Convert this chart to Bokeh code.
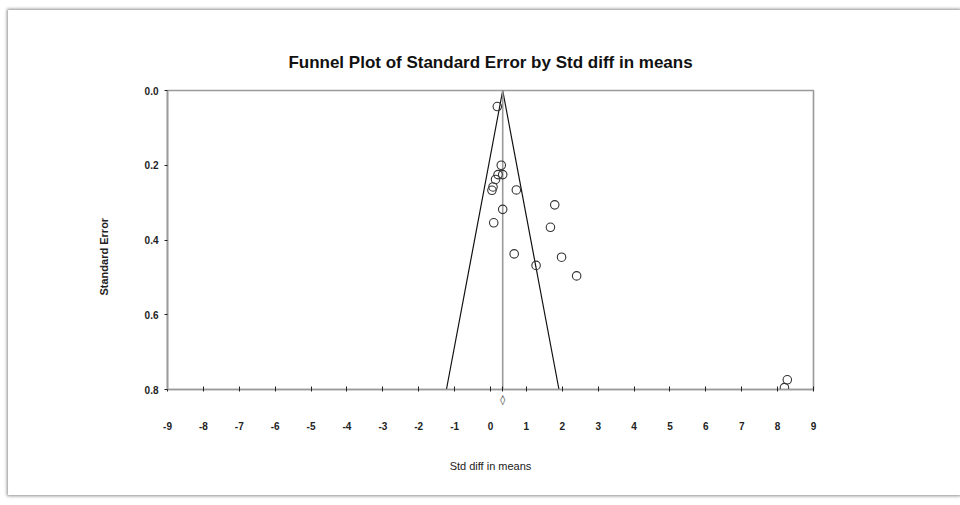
from bokeh.plotting import figure
from bokeh.models import (Range1d, FixedTicker, ColumnDataSource, CustomJSTickFormatter,
                          LinearAxis, Title)
from bokeh.embed import file_html
from bokeh.resources import INLINE

# ---- data ----
std_diff = [0.19, 0.30, 0.21, 0.34, 0.14, 0.07, 0.04, 0.72, 1.79, 0.34, 0.09,
            1.67, 0.66, 1.98, 1.27, 2.40, 8.27, 8.19]
std_err = [0.043, 0.200, 0.225, 0.225, 0.238, 0.258, 0.267, 0.266, 0.306, 0.318,
           0.354, 0.366, 0.437, 0.446, 0.468, 0.496, 0.774, 0.795]
combined_effect = 0.34
x_ticks = list(range(-9, 10))
y_ticks = [0.0, 0.2, 0.4, 0.6, 0.8]
se_max = 0.8

FONT = "'Liberation Sans Narrow', 'Liberation Sans', sans-serif"
GRAY = "#9a9a9a"
INK = "#222222"

p = figure(width=952, height=485, output_backend="svg", toolbar_location=None,
           x_range=Range1d(-9, 9), y_range=Range1d(se_max, 0.0),
           min_border_left=159, min_border_right=147, min_border_top=80,
           min_border_bottom=106, x_axis_location=None,
           title="Funnel Plot of Standard Error by Std diff in means")
p.margin = (10, 0, 0, 8)
p.styles = {"box-shadow": "0px 0px 3px 1px rgba(0,0,0,0.45)"}

p.title.align = "center"
p.title.text_font = "'Liberation Sans', Arial, sans-serif"
p.title.text_font_size = "17px"
p.title.text_font_style = "bold"
p.title.text_color = "#111111"
p.title.standoff = 37

p.grid.visible = False
p.outline_line_color = GRAY
p.outline_line_width = 1.6
p.outline_line_alpha = 1.0
p.background_fill_color = "white"
p.border_fill_color = "white"

# axis next to the frame: tick marks plus the combined-effect diamond
tick_axis = LinearAxis(
    ticker=FixedTicker(ticks=x_ticks + [combined_effect]),
    formatter=CustomJSTickFormatter(code="return Number.isInteger(tick) ? '' : '\u25CA'"),
    axis_line_color=GRAY, axis_line_width=1.6,
    major_tick_in=3, major_tick_out=2, major_tick_line_color=INK,
    minor_tick_line_color=None, major_label_standoff=2,
    major_label_text_font="'DejaVu Sans'", major_label_text_font_size="10px",
    major_label_text_color=INK)
# numeric labels and axis title
label_axis = LinearAxis(
    ticker=FixedTicker(ticks=x_ticks),
    formatter=CustomJSTickFormatter(code="return tick.toString()"),
    axis_line_color=None, major_tick_line_color=None, minor_tick_line_color=None,
    major_tick_in=0, major_tick_out=0, major_label_standoff=14,
    major_label_text_font=FONT, major_label_text_font_style="bold",
    major_label_text_font_size="10px", major_label_text_color=INK,
    axis_label="Std diff in means", axis_label_text_font=FONT,
    axis_label_text_font_style="normal", axis_label_text_font_size="11px",
    axis_label_text_color=INK, axis_label_standoff=27)
p.add_layout(tick_axis, "below")
p.add_layout(label_axis, "below")

ya = p.yaxis[0]
ya.ticker = FixedTicker(ticks=y_ticks)
ya.formatter = CustomJSTickFormatter(code="return tick.toFixed(1)")
ya.axis_line_color = GRAY
ya.axis_line_width = 1.6
ya.major_tick_in = 0
ya.major_tick_out = 3
ya.major_tick_line_color = INK
ya.minor_tick_line_color = None
ya.major_label_standoff = 6
ya.major_label_text_font = FONT
ya.major_label_text_font_style = "bold"
ya.major_label_text_font_size = "10px"
ya.major_label_text_color = INK

# y axis title (placed a little below the frame centre as in the reference)
p.add_layout(Title(text="Standard Error", align="left", offset=94, standoff=63,
                   text_font=FONT, text_font_style="bold", text_font_size="11px",
                   text_color=INK), "left")

# funnel (95% pseudo-confidence limits)
lo = combined_effect - 1.96 * se_max
hi = combined_effect + 1.96 * se_max
p.line([lo, combined_effect, hi], [se_max, 0.0, se_max], line_color="#111111", line_width=1.2)
# centre line at combined effect
p.line([combined_effect, combined_effect], [0.0, se_max], line_color=GRAY, line_width=1.6)

# studies
src = ColumnDataSource(dict(x=std_diff, y=std_err))
p.scatter("x", "y", source=src, marker="circle", size=8.5, fill_color=None,
          line_color="#333333", line_width=1.1)

open("out.html", "w").write(file_html(p, INLINE))
